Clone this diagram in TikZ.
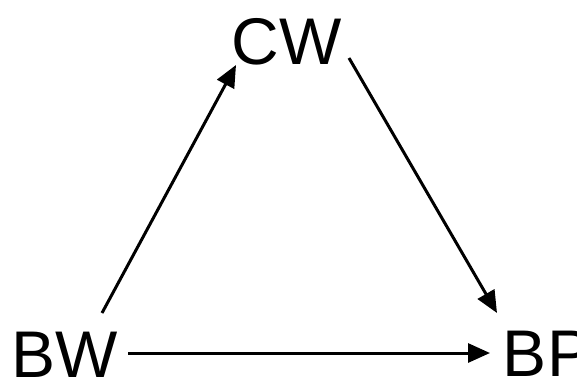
\documentclass[tikz,border=0pt]{standalone}
\usepackage{fontspec}
\setmainfont{Liberation Sans}
\usetikzlibrary{arrows.meta}
\begin{document}
\begin{tikzpicture}[x=1pt,y=1pt,
  lbl/.style={inner sep=0pt,anchor=base,font=\fontsize{66}{79}\selectfont},
  conn/.style={line width=3pt,-{Triangle[length=22pt,width=19pt]}}]
\useasboundingbox (0,0) rectangle (577,-378);
\node[lbl] (BW) at (64.5,-377) {BW};
\node[lbl] (CW) at (286.5,-64) {CW};
\node[lbl] (BP) at (547,-376) {BP};
\coordinate (a1) at (102,-313);
\coordinate (a2) at (236,-65);
\coordinate (b1) at (349,-58);
\coordinate (b2) at (497,-313);
\coordinate (c1) at (128,-353);
\coordinate (c2) at (490,-353);
\draw[conn] (a1) -- (a2);
\draw[conn] (b1) -- (b2);
\draw[conn] (c1) -- (c2);
\end{tikzpicture}
\end{document}
